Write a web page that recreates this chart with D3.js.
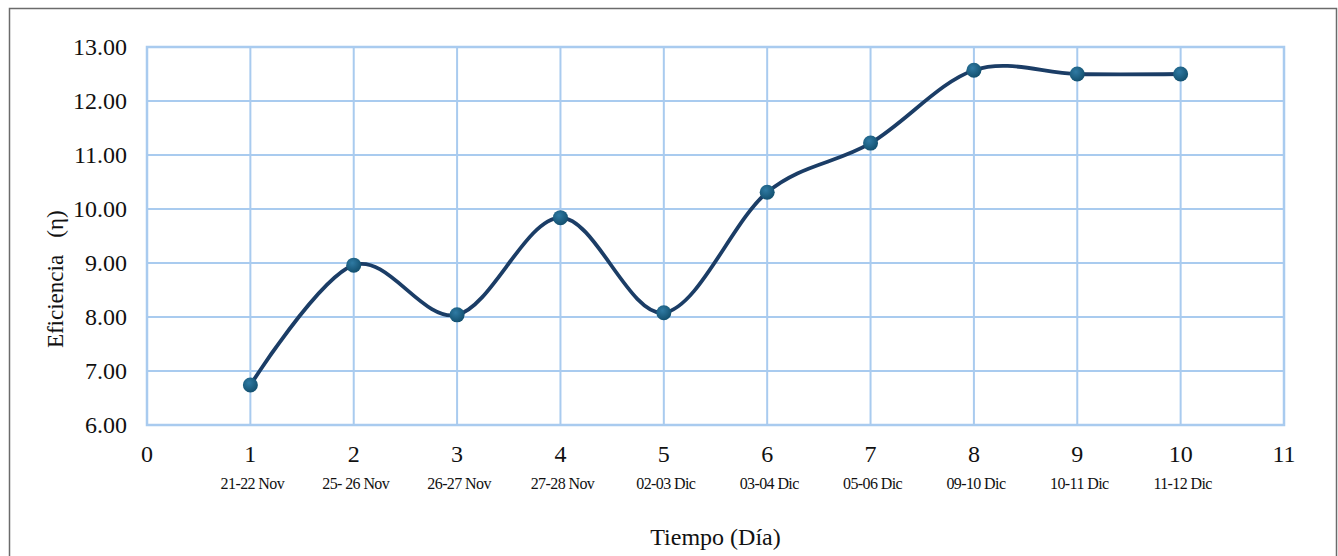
<!DOCTYPE html>
<html>
<head>
<meta charset="utf-8">
<script src="https://cdn.jsdelivr.net/npm/d3@7"></script>
<style>
  body { margin: 0; background: #fff; }
  text { font-family: "Liberation Serif", "Times New Roman", serif; fill: #111; }
</style>
</head>
<body>
<svg id="chart"></svg>
<script>
// data
var days = [1, 2, 3, 4, 5, 6, 7, 8, 9, 10];
var efficiency = [6.74, 8.96, 8.04, 9.84, 8.08, 10.31, 11.22, 12.57, 12.50, 12.50];
var dateLabels = ["21-22 Nov", "25- 26 Nov", "26-27 Nov", "27-28 Nov", "02-03 Dic",
                  "03-04 Dic", "05-06 Dic", "09-10 Dic", "10-11 Dic", "11-12 Dic"];
var xTicks = [0, 1, 2, 3, 4, 5, 6, 7, 8, 9, 10, 11];
var yTicks = [6, 7, 8, 9, 10, 11, 12, 13];

width = 1338;
height = 556;
margin = {left: 147, right: 54, top: 47, bottom: 131};

svg = d3.select("#chart")
    .attr("width", width)
    .attr("height", height);

// outer frame
svg.append("rect")
    .attr("x", 9.5).attr("y", 8.5)
    .attr("width", 1327).attr("height", 560)
    .attr("style", "fill:none; stroke:#6b6b6b; stroke-width:1.5");

x = d3.scaleLinear().domain([0, 11]).range([margin.left, width - margin.right]);
y = d3.scaleLinear().domain([6, 13]).range([height - margin.bottom, margin.top]);

grid = svg.append("g");
grid.selectAll("line.v")
    .data(xTicks)
    .enter().append("line")
        .attr("x1", d => x(d)).attr("x2", d => x(d))
        .attr("y1", y(6)).attr("y2", y(13))
        .attr("style", "stroke:#a9cbef; stroke-width:2");
grid.selectAll("line.h")
    .data(yTicks)
    .enter().append("line")
        .attr("x1", x(0)).attr("x2", x(11))
        .attr("y1", d => y(d)).attr("y2", d => y(d))
        .attr("style", "stroke:#a9cbef; stroke-width:2");
grid.append("rect")
    .attr("x", x(0)).attr("y", y(13))
    .attr("width", x(11) - x(0)).attr("height", y(6) - y(13))
    .attr("style", "fill:none; stroke:#a9cbef; stroke-width:2.5");

// y tick labels
svg.append("g").selectAll("text")
    .data(yTicks)
    .enter().append("text")
        .attr("x", 127)
        .attr("y", d => y(d))
        .attr("dy", "0.35em")
        .attr("text-anchor", "end")
        .attr("style", "font-size:24px")
        .text(d => d.toFixed(2));

// x tick labels
svg.append("g").selectAll("text")
    .data(xTicks)
    .enter().append("text")
        .attr("x", d => x(d))
        .attr("y", 462)
        .attr("text-anchor", "middle")
        .attr("style", "font-size:24px")
        .text(d => d);

// date labels
svg.append("g").selectAll("text")
    .data(dateLabels)
    .enter().append("text")
        .attr("x", (d, i) => x(days[i]) + 2)
        .attr("y", 489)
        .attr("text-anchor", "middle")
        .attr("style", "font-size:16px; letter-spacing:-0.6px")
        .text(d => d);

// axis titles
svg.append("text")
    .attr("x", x(5.5))
    .attr("y", 545)
    .attr("text-anchor", "middle")
    .attr("style", "font-size:24px")
    .text("Tiempo (Día)");
svg.append("text")
    .attr("transform", "translate(63," + y(8.7) + ") rotate(-90)")
    .attr("text-anchor", "middle")
    .attr("style", "font-size:23px; white-space:pre")
    .text("Eficiencia   (η)");

// smoothed line
pts = days.map((d, i) => [d, efficiency[i]]);
line = d3.line()
    .x(d => x(d[0]))
    .y(d => y(d[1]))
    .curve(d3.curveCardinal.tension(0));
svg.append("path")
    .datum(pts)
    .attr("d", line)
    .attr("style", "fill:none; stroke:#1b3d66; stroke-width:3.8");

// markers
defs = svg.append("defs");
grad = defs.append("radialGradient").attr("id", "mk")
    .attr("cx", "40%").attr("cy", "35%").attr("r", "65%");
grad.append("stop").attr("offset", "0%").attr("stop-color", "#2f7aa3");
grad.append("stop").attr("offset", "100%").attr("stop-color", "#13506f");

svg.append("g").selectAll("circle")
    .data(pts)
    .enter().append("circle")
        .attr("cx", d => x(d[0]))
        .attr("cy", d => y(d[1]))
        .attr("r", 7.5)
        .attr("fill", "url(#mk)");
</script>
</body>
</html>
